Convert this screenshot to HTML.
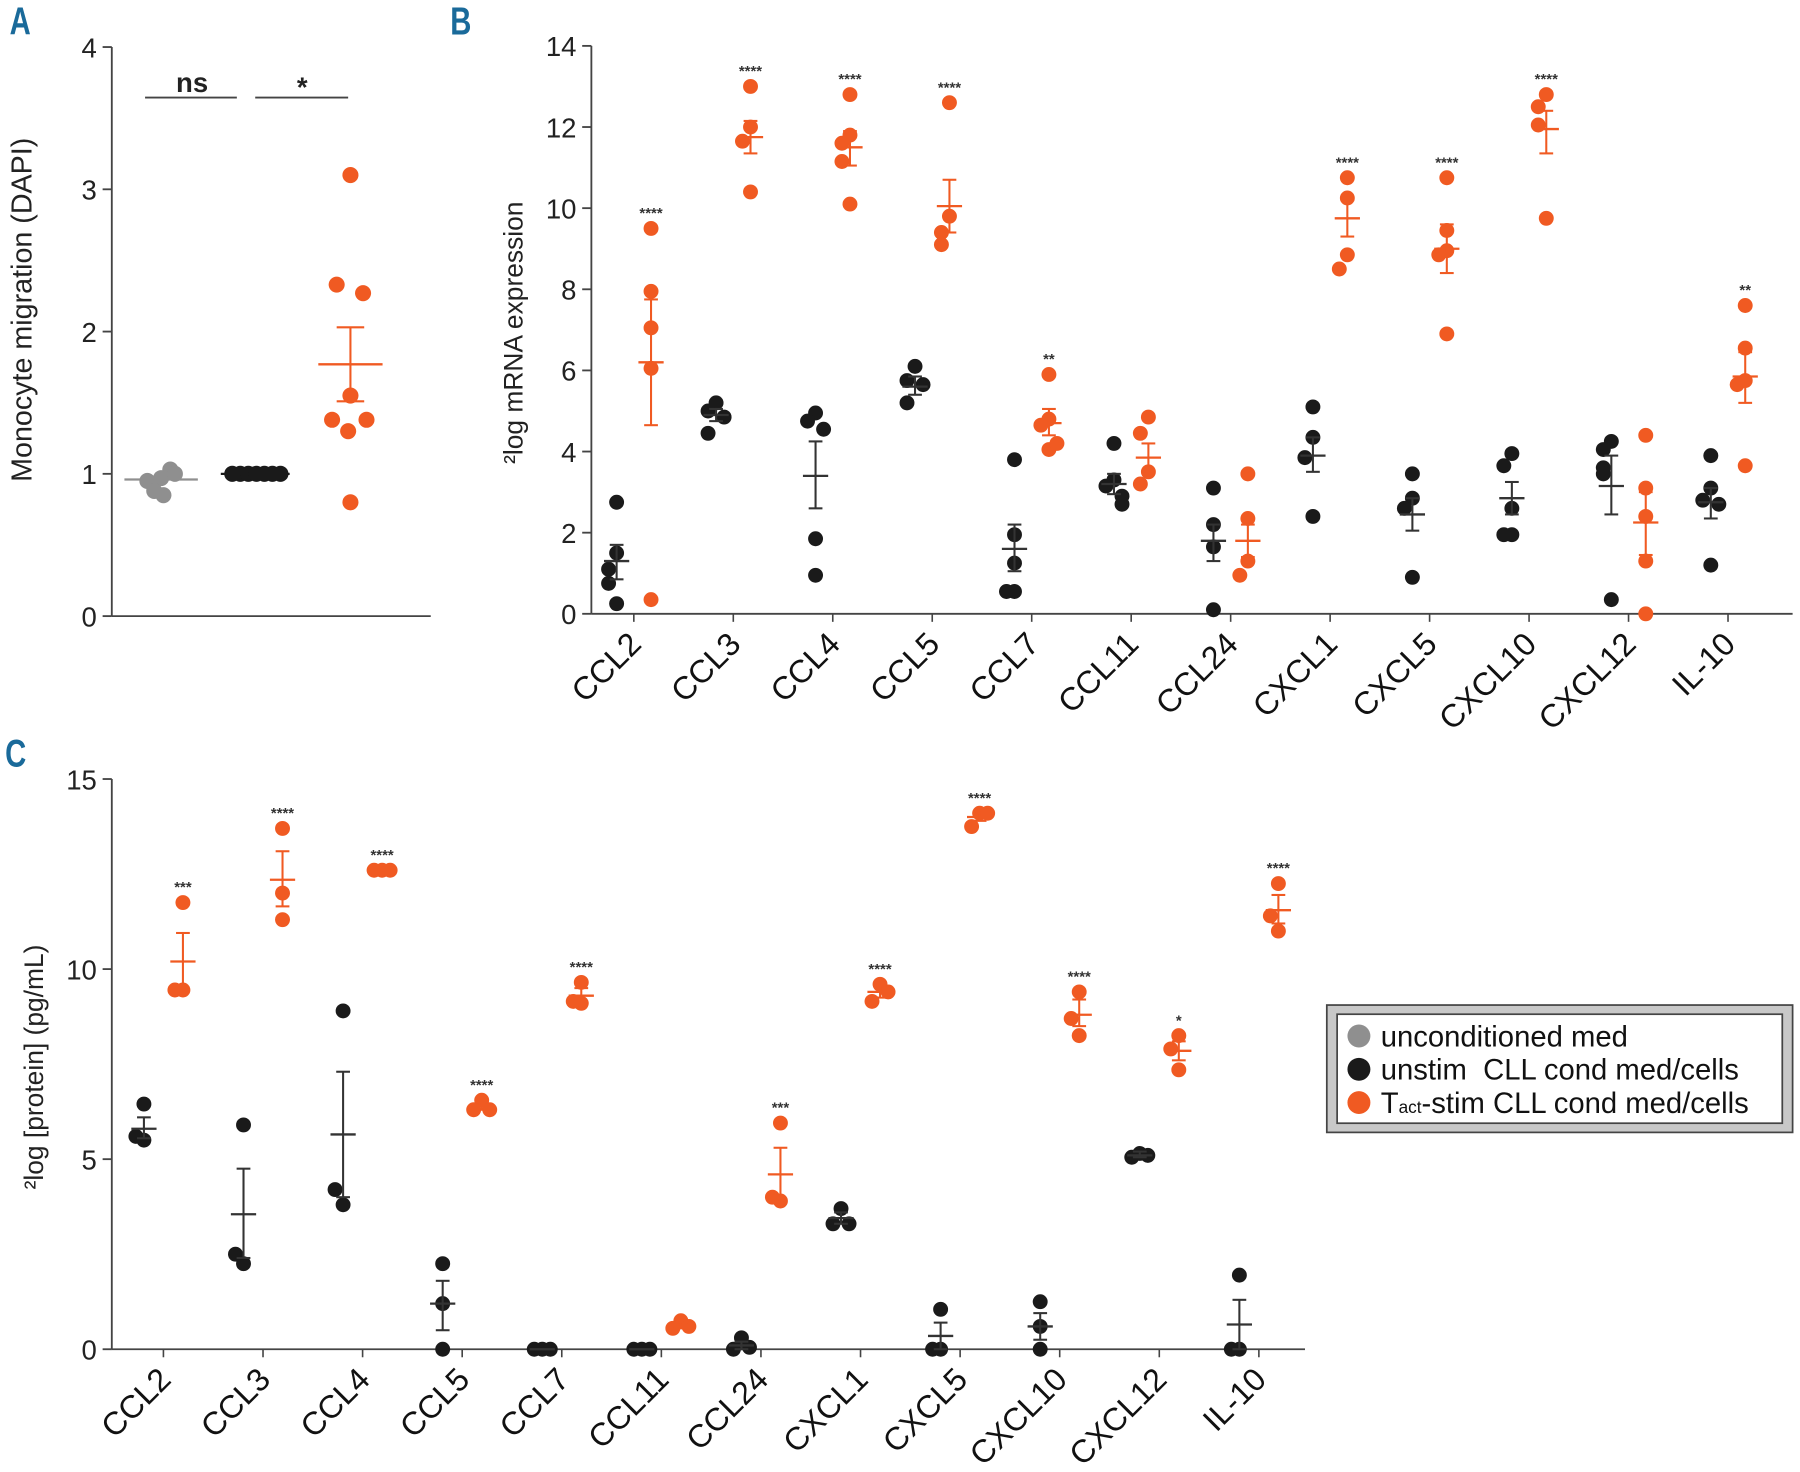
<!DOCTYPE html>
<html><head><meta charset="utf-8">
<style>
html,body{margin:0;padding:0;background:#fff;}
svg{display:block;}
text{font-family:"Liberation Sans",sans-serif;}
</style></head>
<body>
<svg id="fig" width="1800" height="1472" viewBox="0 0 1568 1283" xmlns="http://www.w3.org/2000/svg"></svg>
<script>
// ---- Panel A data ----
const aGroups = ['unconditioned', 'unstim', 'tact'];
const aGray = [0.97, 1.03, 0.95, 1.0, 0.88, 0.85];
const aBlack = [1.0, 1.0, 1.0, 1.0, 1.0, 1.0, 1.0];
const aOrange = [3.1, 2.33, 2.27, 1.55, 1.38, 1.38, 1.3, 0.8];
const aMeans = [0.96, 1.0, 1.77];
const aSemLo = [0.96, 1.0, 1.51];
const aSemHi = [0.96, 1.0, 2.03];
const aTicks = [0, 1, 2, 3, 4];

// ---- Panel B data ----
const genes = ['CCL2','CCL3','CCL4','CCL5','CCL7','CCL11','CCL24','CXCL1','CXCL5','CXCL10','CXCL12','IL-10'];
const bBlack = [[1.5,2.75,1.1,0.75,0.25],[5.2,5.0,4.85,4.45],[4.95,4.75,4.55,1.85,0.95],[6.1,5.75,5.65,5.2],[3.8,1.95,1.25,0.55,0.55],[4.2,3.3,3.15,2.9,2.7],[3.1,2.2,1.65,0.1],[5.1,4.35,3.85,2.4],[3.45,2.85,2.6,0.9],[3.95,3.65,2.6,1.95,1.95],[4.25,4.05,3.6,3.45,0.35],[3.9,3.1,2.8,2.7,1.2]];
const bBlackMean = [1.3,4.9,3.4,5.6,1.6,3.2,1.8,3.9,2.45,2.85,3.15,2.75];
const bBlackLo = [0.85,4.75,2.6,5.4,1.05,2.95,1.3,3.5,2.05,2.45,2.45,2.35];
const bBlackHi = [1.7,5.05,4.25,5.85,2.2,3.45,2.2,4.35,2.85,3.25,3.9,3.1];
const bOrange = [[9.5,7.95,7.05,6.05,0.35],[13.0,12.0,11.65,10.4],[12.8,11.8,11.6,11.15,10.1],[12.6,9.8,9.4,9.1],[5.9,4.8,4.65,4.05,4.2],[4.85,4.45,3.5,3.2],[3.45,2.35,1.3,0.95],[10.75,10.25,8.85,8.5],[10.75,9.45,8.95,8.85,6.9],[12.8,12.5,12.05,9.75],[4.4,3.1,2.4,1.3,0.0],[7.6,6.55,5.75,5.65,3.65]];
const bOrangeMean = [6.2,11.75,11.5,10.05,4.7,3.85,1.8,9.75,9.0,11.95,2.25,5.85];
const bOrangeLo = [4.65,11.35,11.05,9.4,4.4,3.5,1.4,9.3,8.4,11.35,1.45,5.2];
const bOrangeHi = [7.75,12.15,11.9,10.7,5.05,4.2,2.2,10.2,9.6,12.4,3.0,6.45];
const bStars = ['****','****','****','****','**','','','****','****','****','','**'];
const bTicks = [0,2,4,6,8,10,12,14];

// ---- Panel C data ----
const cBlack = [[6.45,5.5,5.6],[5.9,2.25,2.5],[8.9,3.8,4.2],[2.25,1.2,0.0],[0,0,0],[0,0,0],[0.3,0.0,0.05],[3.7,3.3,3.3],[1.05,0,0],[1.25,0.6,0.0],[5.15,5.05,5.1],[1.95,0,0]];
const cBlackMean = [5.8,3.55,5.65,1.2,0,0,0.1,3.45,0.35,0.6,5.1,0.65];
const cBlackLo = [5.55,2.4,4.0,0.5,0,0,0.0,3.3,0,0.25,5.05,0];
const cBlackHi = [6.1,4.75,7.3,1.8,0,0,0.2,3.6,0.7,0.95,5.2,1.3];
const cOrange = [[11.75,9.45,9.45],[13.7,12.0,11.3],[12.6,12.6,12.6],[6.55,6.3,6.3],[9.65,9.1,9.15],[0.75,0.55,0.6],[5.95,3.9,4.0],[9.6,9.15,9.4],[14.1,13.75,14.1],[9.4,8.25,8.7],[8.25,7.35,7.9],[12.25,11.0,11.4]];
const cOrangeMean = [10.2,12.35,12.6,6.4,9.3,0.6,4.6,9.4,14.0,8.8,7.85,11.55];
const cOrangeLo = [9.45,11.65,12.6,6.3,9.1,0.55,3.95,9.25,13.9,8.5,7.6,11.2];
const cOrangeHi = [10.95,13.1,12.6,6.5,9.5,0.7,5.3,9.55,14.1,9.2,8.1,11.95];
const cStars = ['***','****','****','****','****','','***','****','****','****','*','****'];
const cTicks = [0,5,10,15];

const NS='http://www.w3.org/2000/svg';
const svg=document.getElementById('fig');
const ORANGE='#f05a22', BLACK='#1a1a1a', GRAY='#8f8f8f', AX='#444';
function el(tag,attrs,parent){const e=document.createElementNS(NS,tag);for(const k in attrs)e.setAttribute(k,attrs[k]);(parent||svg).appendChild(e);return e;}
function txt(s,attrs,parent){const e=el('text',attrs,parent);e.textContent=s;return e;}

[['A',8,30],['B',392,30],['C',4,668]].forEach(([l,x,y])=>{
  const t=txt(l,{x:x,y:y,'font-size':34,'font-weight':'bold',fill:'#1a6a9a',transform:`translate(${x},${y}) scale(0.75,1) translate(${-x},${-y})`});
  
  
});

function yAxis(g,x0,yScale,ticks,xEnd,y0,label,lx,ly,fs,lfs){
  el('line',{x1:x0,y1:yScale(ticks[ticks.length-1]),x2:x0,y2:y0,stroke:AX,'stroke-width':1.6},g);
  el('line',{x1:x0,y1:y0,x2:xEnd,y2:y0,stroke:AX,'stroke-width':1.6},g);
  ticks.forEach(t=>{
    el('line',{x1:x0-8,y1:yScale(t),x2:x0,y2:yScale(t),stroke:AX,'stroke-width':1.6},g);
    const tl=txt(String(t),{x:x0-13,y:yScale(t)+9,'font-size':fs,'text-anchor':'end',fill:'#222'},g);
    
    
  });
  const yl=txt(label,{x:lx,y:ly,'font-size':lfs,'text-anchor':'middle',fill:'#222',transform:`rotate(-90 ${lx} ${ly})`},g);
  
  
}
function dot(g,x,y,c,r){const d=el('circle',{cx:x,cy:y,r:r||6.5,fill:c},g);
  
  return d;}
function semBar(g,x,yScale,m,lo,hi,c,hw,cw){
  const b=el('g',{},g);
  
  
  el('line',{x1:x-hw,x2:x+hw,y1:yScale(m),y2:yScale(m),stroke:c,'stroke-width':2},b);
  if(hi-lo>0.05){
    el('line',{x1:x,x2:x,y1:yScale(lo),y2:yScale(hi),stroke:c,'stroke-width':1.8},b);
    el('line',{x1:x-cw,x2:x+cw,y1:yScale(lo),y2:yScale(lo),stroke:c,'stroke-width':1.8},b);
    el('line',{x1:x-cw,x2:x+cw,y1:yScale(hi),y2:yScale(hi),stroke:c,'stroke-width':1.8},b);
  }
}
const jit=[0,-7,7,-4,4,-9,9,0];
function jitterFor(vals,i){
  let n=0;for(let k=0;k<i;k++){if(Math.abs(vals[k]-vals[i])<0.5)n++;}
  return jit[n%jit.length];
}

// ---- Panel A ----
(function(){
  const g=el('g',{});
  const y=v=>537-v*124;
  yAxis(g,97,y,aTicks,375,537,'Monocyte migration (DAPI)',27,270,24,25);
  const xs=[140,222,305];
  aGray.forEach((v,i)=>dot(g,xs[0]+[0,8,-12,12,-6,2][i%6],y(v),GRAY,7));
  aBlack.forEach((v,i)=>dot(g,xs[1]-20+i*7,y(v),BLACK,7));
  aOrange.forEach((v,i)=>dot(g,xs[2]+[0,-12,11,0,-16,14,-2,0][i%8],y(v),ORANGE,7));
  semBar(g,xs[0],y,aMeans[0],aSemLo[0],aSemHi[0],GRAY,32,0);
  semBar(g,xs[1],y,aMeans[1],aSemLo[1],aSemHi[1],BLACK,30,0);
  semBar(g,xs[2],y,aMeans[2],aSemLo[2],aSemHi[2],ORANGE,28,12);
  el('line',{x1:126,x2:206,y1:85,y2:85,stroke:AX,'stroke-width':1.6},g);
  el('line',{x1:222,x2:303,y1:85,y2:85,stroke:AX,'stroke-width':1.6},g);
  const s1=txt('ns',{x:167,y:80,'font-size':24,'text-anchor':'middle',fill:'#222','font-weight':'bold'},g);
  
  const s2=txt('*',{x:263,y:84,'font-size':24,'text-anchor':'middle',fill:'#222','font-weight':'bold'},g);
  
})();

function catPanel(name,x0,y0,yTop,maxV,xEnd,tick0,step,off,ticks,blk,bm,bl,bh,org,om,ol,oh,stars,label,lx,ly){
  const g=el('g',{});
  const y=v=>y0-(v/maxV)*(y0-yTop);
  const xc=i=>tick0+step*i;
  yAxis(g,x0,y,ticks,xEnd,y0,label,lx,ly,24,23);
  genes.forEach((gname,i)=>{
    const x=xc(i);
    el('line',{x1:x,x2:x,y1:y0,y2:y0+7,stroke:AX,'stroke-width':1.4},g);
    const tl=txt(gname,{x:x+8,y:y0+28,'font-size':28,'text-anchor':'end',fill:'#111',transform:`rotate(-45 ${x+8} ${y0+28})`},g);
    
    blk[i].forEach((v,k)=>dot(g,x-off+jitterFor(blk[i],k),y(v),BLACK));
    org[i].forEach((v,k)=>dot(g,x+off+jitterFor(org[i],k),y(v),ORANGE));
    semBar(g,x-off,y,bm[i],bl[i],bh[i],'#333',11,6);
    semBar(g,x+off,y,om[i],ol[i],oh[i],ORANGE,11,6);
    if(stars[i]){
      const top=Math.max(...org[i],oh[i]);
      const st=txt(stars[i],{x:x+off,y:y(top)-9,'font-size':13,'text-anchor':'middle',fill:'#333','font-weight':'bold'},g);
      
    }
  });
}
catPanel('panel-b-chart',515,535,40,14,1562,552,86.7,15,bTicks,bBlack,bBlackMean,bBlackLo,bBlackHi,bOrange,bOrangeMean,bOrangeLo,bOrangeHi,bStars,'²log mRNA expression',455,290);
catPanel('panel-c-chart',97,1176,679,15,1137,142,86.8,17,cTicks,cBlack,cBlackMean,cBlackLo,cBlackHi,cOrange,cOrangeMean,cOrangeLo,cOrangeHi,cStars,'²log [protein] (pg/mL)',37,930);

// ---- Legend ----
(function(){
  const g=el('g',{});
  el('rect',{x:1156,y:876,width:406,height:111,fill:'#c8c8c8',stroke:'#444','stroke-width':1.5},g);
  el('rect',{x:1165,y:884,width:388,height:95,fill:'#fff',stroke:'#444','stroke-width':1.5},g);
  const items=[['unconditioned med',GRAY],['unstim  CLL cond med/cells',BLACK],[null,ORANGE]];
  items.forEach((it,i)=>{
    const yy=903+i*29;
    const e=el('g',{},g);
    el('circle',{cx:1184,cy:yy,r:10,fill:it[1]},e);
    const t=txt('',{x:1203,y:yy+9,'font-size':25.5,fill:'#111'},e);
    t.setAttribute('xml:space','preserve');
    t.style.whiteSpace='pre';
    if(it[0]){t.textContent=it[0];}
    else{
      const a=document.createElementNS(NS,'tspan');a.textContent='T';t.appendChild(a);
      const b=document.createElementNS(NS,'tspan');b.setAttribute('font-size','15');b.textContent='act';t.appendChild(b);
      const c=document.createElementNS(NS,'tspan');c.textContent='-stim CLL cond med/cells';t.appendChild(c);
    }
  });
})();
</script>
</body></html>
